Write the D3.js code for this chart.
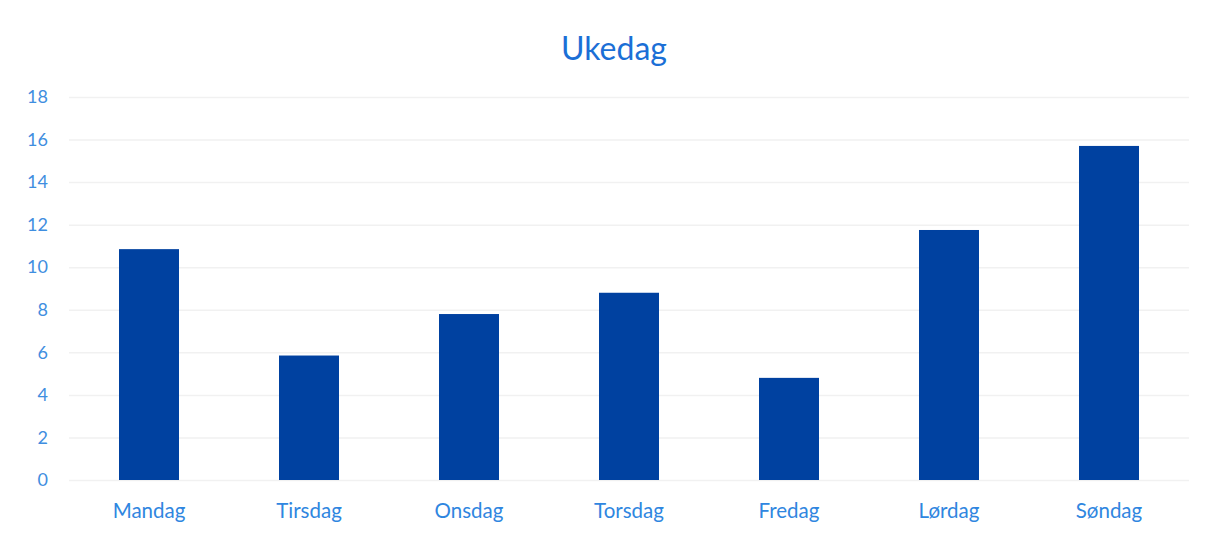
<!DOCTYPE html>
<html>
<head>
<meta charset="utf-8">
<script src="https://cdn.jsdelivr.net/npm/d3@7"></script>
<style>
  body { margin: 0; background: #fff; }
  text { font-family: Lato, "Open Sans", sans-serif; }
</style>
</head>
<body>
<div id="chart"></div>
<script>
const days = ["Mandag", "Tirsdag", "Onsdag", "Torsdag", "Fredag", "Lørdag", "Søndag"];
const counts = [10.85, 5.85, 7.8, 8.8, 4.8, 11.75, 15.7];
const yTicks = [0, 2, 4, 6, 8, 10, 12, 14, 16, 18];
const title = "Ukedag";

const width = 1208, height = 535;
const margin = {top: 97, right: 19, bottom: 55, left: 69};

const svg = d3.select("#chart").append("svg")
    .attr("width", width)
    .attr("height", height);

// title
svg.append("text")
    .attr("x", 614)
    .attr("y", 60)
    .attr("text-anchor", "middle")
    .style("font-size", "32px")
    .style("fill", "#1b6fd6")
    .text(title);

const g = svg.append("g")
    .attr("transform", "translate(" + margin.left + "," + margin.top + ")");

const w = width - margin.left - margin.right;
const h = 383;

const x = d3.scaleBand()
    .domain(days)
    .range([0, w])
    .paddingInner(0.625)
    .paddingOuter(0.3125);

const y = d3.scaleLinear()
    .domain([0, 18])
    .range([h, 0]);

// faint grid lines
g.append("g")
    .call(d3.axisLeft(y).tickValues(yTicks).tickFormat("").tickSize(-w))
    .call(s => s.select(".domain").remove())
    .selectAll("line")
    .attr("stroke", "#f1f1f1")
    .attr("stroke-width", 1.5);

// y axis labels
const yAxis = g.append("g")
    .call(d3.axisLeft(y).tickValues(yTicks).tickSize(0).tickPadding(21));
yAxis.select(".domain").remove();
yAxis.selectAll("text")
    .style("font-size", "18px")
    .style("fill", "#3f8ee0")
    .style("font-family", "Lato, 'Open Sans', sans-serif");

// bars
g.selectAll(".bar")
    .data(days)
    .enter()
    .append("rect")
    .attr("class", "bar")
    .attr("x", d => x(d))
    .attr("width", x.bandwidth())
    .attr("y", (d, i) => y(counts[i]))
    .attr("height", (d, i) => h - y(counts[i]))
    .attr("fill", "#0041a0");

// x axis labels
const xAxis = g.append("g")
    .attr("transform", "translate(0," + h + ")")
    .call(d3.axisBottom(x).tickSize(0).tickPadding(23));
xAxis.select(".domain").remove();
xAxis.selectAll("text")
    .style("font-size", "20.5px")
    .style("fill", "#2f86e0")
    .style("font-family", "Lato, 'Open Sans', sans-serif");
</script>
</body>
</html>
